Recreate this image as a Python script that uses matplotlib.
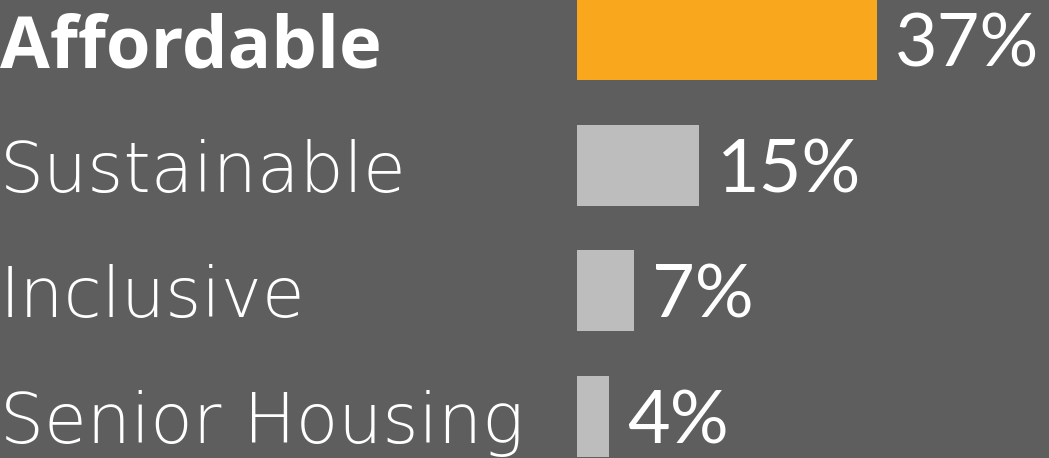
import matplotlib
matplotlib.use("Agg")
import matplotlib.pyplot as plt
import matplotlib.transforms as mtransforms

categories = ["Affordable", "Sustainable", "Inclusive", "Senior Housing"]
values = [37, 15, 7, 4]
bar_colors = ["#F9A81E", "#BDBDBD", "#BDBDBD", "#BDBDBD"]
bold = [True, False, False, False]

bg = "#5E5E5E"
plt.rcParams['font.family'] = ['DejaVu Sans']

fig = plt.figure(figsize=(10.49, 4.58), dpi=100, facecolor=bg)
ax = fig.add_axes([0, 0, 1, 1])
ax.set_facecolor(bg)

ypos = list(range(len(categories)))
ax.barh(ypos, values, height=0.645, color=bar_colors, left=0)

# bars start at x=577 px, ~8.1 px per percent
ppp = 8.1
ax.set_xlim(-577 / ppp, (1049 - 577) / ppp)
ax.set_ylim(3.33, -0.315)
ax.axis('off')

trans = mtransforms.blended_transform_factory(ax.transAxes, ax.transData)
for y, cat, b in zip(ypos, categories, bold):
    if b:
        ax.text(0.0, y, cat, transform=trans, ha='left', va='center_baseline',
                fontsize=52, color='white', fontweight='bold',
                family=['Open Sans', 'DejaVu Sans'])
    else:
        ax.text(0.0, y, cat, transform=trans, ha='left', va='center_baseline',
                fontsize=50, color='white', fontweight='light')

for y, v in zip(ypos, values):
    ax.annotate("%d%%" % v, xy=(v, y), xytext=(18, 0), textcoords='offset pixels',
                ha='left', va='center_baseline', fontsize=53, color='white',
                family=['Lato', 'DejaVu Sans'])

fig.savefig("out.png", dpi=100, facecolor=bg)
